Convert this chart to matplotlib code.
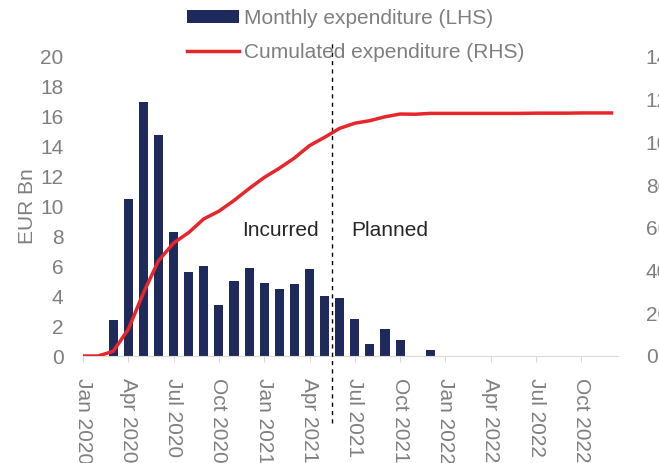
import numpy as np
import matplotlib
matplotlib.use("Agg")
import matplotlib.pyplot as plt
from matplotlib.patches import Patch
from matplotlib.lines import Line2D

plt.rcParams['font.family'] = ['Liberation Sans', 'DejaVu Sans']

# Months Jan 2020 .. Dec 2022 (index 0..35)
months = ['Jan 2020', 'Feb 2020', 'Mar 2020', 'Apr 2020', 'May 2020', 'Jun 2020',
          'Jul 2020', 'Aug 2020', 'Sep 2020', 'Oct 2020', 'Nov 2020', 'Dec 2020',
          'Jan 2021', 'Feb 2021', 'Mar 2021', 'Apr 2021', 'May 2021', 'Jun 2021',
          'Jul 2021', 'Aug 2021', 'Sep 2021', 'Oct 2021', 'Nov 2021', 'Dec 2021',
          'Jan 2022', 'Feb 2022', 'Mar 2022', 'Apr 2022', 'May 2022', 'Jun 2022',
          'Jul 2022', 'Aug 2022', 'Sep 2022', 'Oct 2022', 'Nov 2022', 'Dec 2022']

# EUR Bn, left axis
monthly = [0, 0, 2.4, 10.5, 17.0, 14.8, 8.3, 5.6, 6.0, 3.4, 5.0, 5.9,
           4.9, 4.5, 4.8, 5.8, 4.0, 3.9, 2.5, 0.8, 1.8, 1.1, -0.05, 0.4,
           0, 0, 0, 0, 0, 0, 0, 0, 0, 0, 0, 0]

# EUR Bn, right axis
cumulated = [0, 0, 2.2, 12.5, 29.5, 44.6, 52.9, 57.8, 64.2, 67.8, 72.8, 78.4,
             83.6, 87.9, 92.7, 98.5, 102.4, 106.6, 109.0, 110.2, 112.0, 113.3, 113.2, 113.6,
             113.6, 113.6, 113.6, 113.6, 113.6, 113.6, 113.7, 113.7, 113.7, 113.8, 113.8, 113.8]

tick_idx = list(range(0, 36, 3))
tick_labels = [months[i] for i in tick_idx]

split_x = 16.5  # between incurred and planned

grey = '#7f7f7f'
navy = '#1F2A5C'
red = '#E8252B'
fs = 15

fig = plt.figure(figsize=(6.59, 4.63), dpi=100)
ax = fig.add_axes([83/659, 1 - 356/463, 535/659, 299/463])
x = np.arange(len(months))
ax.bar(x, monthly, width=0.6, color=navy, zorder=2)
ax.set_xlim(0, 35.43)
ax.set_ylim(0, 20)
ax.set_yticks(range(0, 21, 2))
ax.set_xticks(tick_idx)
ax.set_xticklabels(tick_labels, rotation=-90, ha='center', va='top')
ax.tick_params(axis='x', colors='#d9d9d9', labelcolor=grey, length=4, pad=12, labelsize=fs)
ax.tick_params(axis='y', length=0, pad=14, labelcolor=grey, labelsize=fs)
for s in ['top', 'right', 'left']:
    ax.spines[s].set_visible(False)
ax.spines['bottom'].set_color('#d9d9d9')
ax.set_ylabel('EUR Bn', color=grey, fontsize=fs, labelpad=2)

ax2 = ax.twinx()
ax2.plot(x, cumulated, color=red, lw=2.5, zorder=3)
ax2.set_ylim(0, 140)
ax2.set_yticks(range(0, 141, 20))
ax2.tick_params(axis='y', length=0, pad=20, labelcolor=grey, labelsize=fs)
for s in ax2.spines.values():
    s.set_visible(False)

ax.axvline(split_x, ymin=-0.224, ymax=1.05, color='black', lw=1,
           linestyle=(0, (3, 3)), clip_on=False, zorder=4)

ax.text(13.05, 8.4, 'Incurred', ha='center', va='center', fontsize=fs, color='#262626')
ax.text(20.33, 8.4, 'Planned', ha='center', va='center', fontsize=fs, color='#262626')

handles = [Patch(facecolor=navy, edgecolor='none'), Line2D([0], [0], color=red, lw=2.5)]
fig.legend(handles, ['Monthly expenditure (LHS)', 'Cumulated expenditure (RHS)'],
           loc='upper left', bbox_to_anchor=(187/659, 1 - 9/463), frameon=False,
           fontsize=fs, labelcolor=grey, handlelength=2.5, handleheight=0.55,
           handletextpad=0.25, labelspacing=0.7, borderpad=0, borderaxespad=0)

fig.savefig('out.png', dpi=100)
